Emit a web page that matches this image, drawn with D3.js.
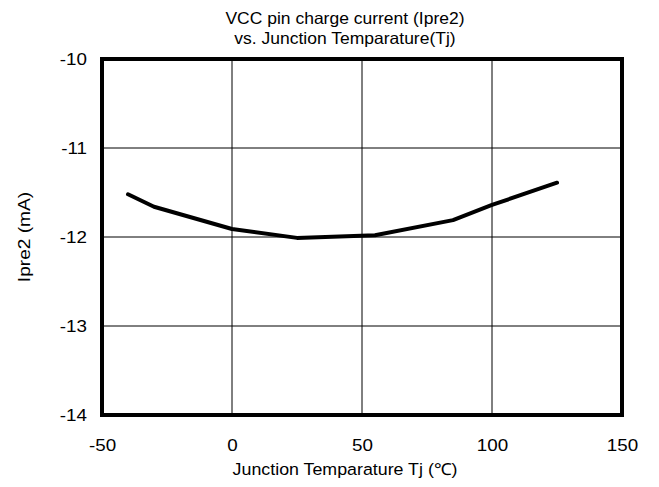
<!DOCTYPE html>
<html><head><meta charset="utf-8">
<script src="https://cdn.jsdelivr.net/npm/d3@7"></script>
<style>body{margin:0;background:#fff}svg{display:block}text{font-family:"Liberation Sans",Arial,sans-serif;fill:#000}</style>
</head><body>
<svg id="c" width="659" height="487"></svg>
<script>
const temps = [-40, -30, 0, 25, 55, 85, 100, 125];
const ipre2 = [-11.52, -11.66, -11.91, -12.01, -11.98, -11.81, -11.64, -11.39];
const xTicks = [-50, 0, 50, 100, 150];
const yTicks = [-14, -13, -12, -11, -10];
const titleLines = ["VCC pin charge current (Ipre2)", "vs. Junction Temparature(Tj)"];
const xLabel = "Junction Temparature Tj (℃)";
const yLabel = "Ipre2 (mA)";

const svg = d3.select("#c");
const L = 102, R = 622, T = 59, B = 415;
const x = d3.scaleLinear().domain([-50, 150]).range([L, R]);
const y = d3.scaleLinear().domain([-14, -10]).range([B, T]);
const FONT = '"Liberation Sans",Arial,sans-serif';
const FS = 16.5;
const TS = 1.14; // horizontal stretch of tick text

// grid
svg.append("g").selectAll("line").data(xTicks.slice(1, -1)).join("line")
  .attr("x1", d => x(d)).attr("x2", d => x(d)).attr("y1", T).attr("y2", B)
  .attr("stroke", "#000").attr("stroke-width", 1);
svg.append("g").selectAll("line").data(yTicks.slice(1, -1)).join("line")
  .attr("y1", d => y(d)).attr("y2", d => y(d)).attr("x1", L).attr("x2", R)
  .attr("stroke", "#000").attr("stroke-width", 1);

// axes
const fmt = d => String(d);
const xAxis = svg.append("g").attr("transform", `translate(0,${B})`)
  .call(d3.axisBottom(x).tickValues(xTicks).tickSize(0).tickFormat(fmt));
const yAxis = svg.append("g").attr("transform", `translate(${L},0)`)
  .call(d3.axisLeft(y).tickValues(yTicks).tickSize(0).tickFormat(fmt));
[xAxis, yAxis].forEach(a => {
  a.select(".domain").remove();
  a.selectAll("text").attr("font-size", FS).attr("font-family", FONT).attr("fill", "#000")
    .attr("transform", `scale(${TS},1)`);
});
xAxis.selectAll("text").attr("y", 36.5).attr("dy", 0);
yAxis.selectAll("text").attr("x", -15 / TS).attr("dy", "0.34em");

// frame
svg.append("rect").attr("x", L).attr("y", T).attr("width", R - L).attr("height", B - T)
  .attr("fill", "none").attr("stroke", "#000").attr("stroke-width", 4);

// line
const data = temps.map((t, i) => ({t, v: ipre2[i]}));
svg.append("path").datum(data)
  .attr("d", d3.line().x(d => x(d.t)).y(d => y(d.v)))
  .attr("fill", "none").attr("stroke", "#000").attr("stroke-width", 4)
  .attr("stroke-linejoin", "round").attr("stroke-linecap", "round");

// titles
svg.append("g").selectAll("text").data(titleLines).join("text")
  .attr("transform", (d, i) => `translate(345,${23.5 + i * 20.5}) scale(1.06,1)`)
  .attr("text-anchor", "middle").attr("font-size", FS).text(d => d);
svg.append("text").attr("transform", "translate(345,474.5) scale(1.08,1)").attr("text-anchor", "middle")
  .attr("font-size", FS).text(xLabel);
svg.append("text").attr("transform", `translate(30,237) rotate(-90) scale(1.16,1)`).attr("text-anchor", "middle")
  .attr("font-size", FS).text(yLabel);
</script>
</body></html>
